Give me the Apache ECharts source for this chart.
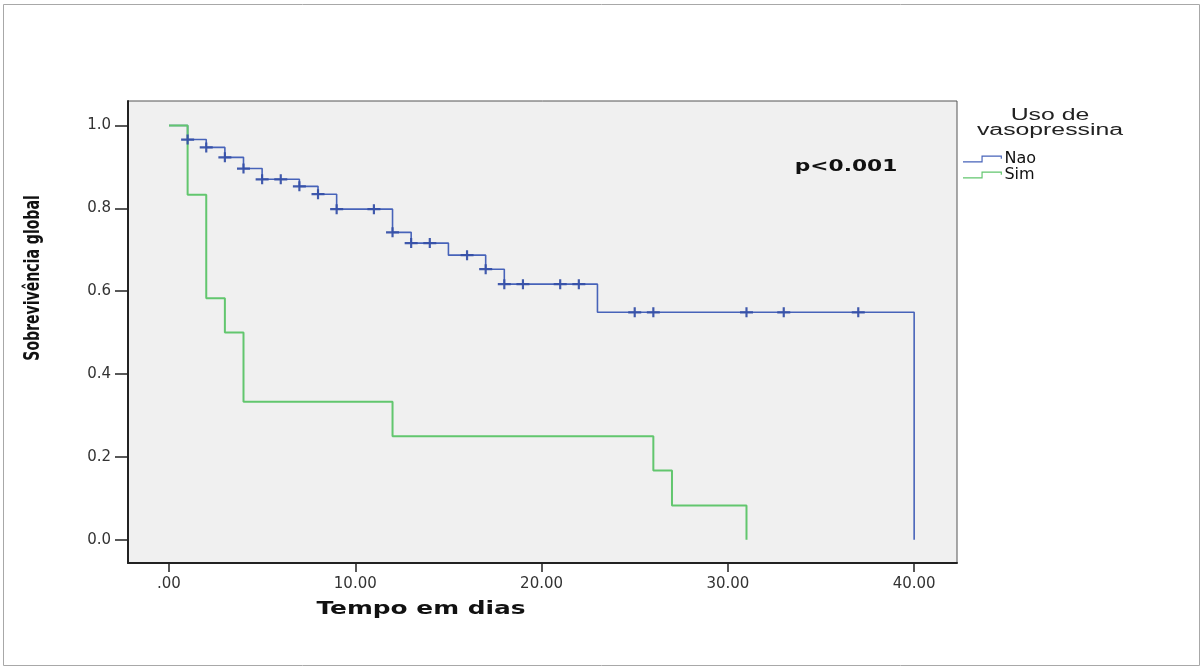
<!DOCTYPE html>
<html>
<head>
<meta charset="utf-8">
<title>Sobrevivência global - Uso de vasopressina</title>
<script src="https://cdn.jsdelivr.net/npm/echarts@6/dist/echarts.min.js"></script>
<style>
  html, body { margin: 0; padding: 0; background: #ffffff; }
  #chart { width: 1202px; height: 670px; }
</style>
</head>
<body>
<div id="chart"></div>
<script>
// Kaplan-Meier estimates (time in days, survival after the event at that time)
const naoTimes = [0, 1, 2, 3, 4, 5, 7, 8, 9, 12, 13, 15, 17, 18, 23, 40];
const naoSurv  = [1.0, 0.966, 0.947, 0.923, 0.896, 0.870, 0.853, 0.834, 0.798, 0.742, 0.716, 0.687, 0.653, 0.617, 0.549, 0.0];
// Censored observations (days) for the "Nao" group
const naoCensored = [1, 2, 3, 4, 5, 6, 7, 8, 9, 11, 12, 13, 14, 16, 17, 18, 19, 21, 22, 25, 26, 31, 33, 37];

const simTimes = [0, 1, 2, 3, 4, 12, 26, 27, 31];
const simSurv  = [1.0, 0.833, 0.583, 0.5, 0.333, 0.25, 0.167, 0.083, 0.0];

// Axis ticks
const xTicks = [0, 10, 20, 30, 40];
const yTicks = [0, 0.2, 0.4, 0.6, 0.8, 1.0];

const groupNames = ['Nao', 'Sim'];
const legendTitle = 'Uso de\nvasopressina';
const pValueText = 'p<0.001';
const xTitle = 'Tempo em dias';
const yTitle = 'Sobrevivência global';

const BLUE = '#4763B9';
const BLUE_MARK = '#3650A8';
const GREEN = '#62C66E';

function survivalAt(times, surv, t) {
  let s = surv[0];
  for (let i = 0; i < times.length; i++) {
    if (times[i] <= t) s = surv[i];
  }
  return s;
}

const naoLine = naoTimes.map((t, i) => [t, naoSurv[i]]);
const simLine = simTimes.map((t, i) => [t, simSurv[i]]);
const naoMarks = naoCensored.map(t => [t, survivalAt(naoTimes, naoSurv, t)]);

const chart = echarts.init(document.getElementById('chart'), null, { renderer: 'canvas' });

const stepIcon = 'path://M0,6H19V0H40V3.4H38.8V1.2H20.2V7.2H0Z';
const crossSymbol = 'path://M0,3.5H12V5.5H0ZM5,0H7V9H5Z';

chart.setOption({
  animation: false,
  backgroundColor: '#ffffff',
  grid: {
    left: 128, right: 245, top: 101, bottom: 107,
    show: true,
    backgroundColor: '#f0f0f0',
    borderColor: '#555555',
    borderWidth: 1
  },
  xAxis: {
    type: 'value',
    min: -2.2,
    max: 42.3,
    splitLine: { show: false },
    axisLine: { show: true, onZero: false, lineStyle: { color: '#222', width: 2 } },
    axisTick: { show: true, length: 9, customValues: xTicks, lineStyle: { color: '#222', width: 1.5 } },
    axisLabel: {
      customValues: xTicks,
      margin: 14,
      color: '#333',
      fontFamily: 'DejaVu Sans',
      fontSize: 15,
      formatter: v => (v === 0 ? '.00' : v.toFixed(2))
    }
  },
  yAxis: {
    type: 'value',
    min: -0.056,
    max: 1.059,
    splitLine: { show: false },
    axisLine: { show: true, onZero: false, lineStyle: { color: '#222', width: 2 } },
    axisTick: { show: true, length: 13, customValues: yTicks, lineStyle: { color: '#222', width: 1.5 } },
    axisLabel: {
      customValues: yTicks,
      margin: 17,
      color: '#333',
      fontFamily: 'DejaVu Sans',
      fontSize: 15,
      formatter: v => v.toFixed(1)
    }
  },
  legend: {
    data: groupNames,
    orient: 'vertical',
    left: 958,
    top: 146,
    itemGap: 0,
    itemWidth: 40,
    itemHeight: 7,
    icon: stepIcon,
    textStyle: { color: '#111', fontFamily: 'DejaVu Sans', fontSize: 16, padding: [0, 0, 0, -3] }
  },
  series: [
    {
      name: groupNames[0],
      type: 'line',
      step: 'end',
      data: naoLine,
      showSymbol: false,
      color: BLUE,
      lineStyle: { color: BLUE, width: 1.6 },
      z: 2
    },
    {
      name: groupNames[1],
      type: 'line',
      step: 'end',
      data: simLine,
      showSymbol: false,
      color: GREEN,
      lineStyle: { color: GREEN, width: 2 },
      z: 3
    },
    {
      name: 'Nao (censurado)',
      type: 'scatter',
      data: naoMarks,
      symbol: crossSymbol,
      symbolSize: [13, 10],
      itemStyle: { color: BLUE_MARK, opacity: 0.95 },
      silent: true,
      z: 4
    }
  ],
  graphic: [
    {
      type: 'rect',
      shape: { x: 3.5, y: 4.5, width: 1196, height: 661 },
      style: { fill: 'none', stroke: '#a8a8a8', lineWidth: 1 },
      z: -10,
      silent: true
    },
    {
      type: 'text',
      x: 1050, y: 123,
      scaleX: 1.55,
      style: {
        text: legendTitle,
        font: '16px "Liberation Sans", Arial, sans-serif',
        fill: '#222',
        align: 'center',
        verticalAlign: 'middle',
        lineHeight: 15
      },
      silent: true
    },
    {
      type: 'text',
      x: 846, y: 167,
      scaleX: 1.45,
      style: {
        text: pValueText,
        font: 'bold 15px "DejaVu Sans", Verdana, sans-serif',
        fill: '#111',
        align: 'center',
        verticalAlign: 'middle'
      },
      silent: true
    },
    {
      type: 'text',
      x: 421, y: 609,
      scaleX: 1.38,
      style: {
        text: xTitle,
        font: 'bold 18px "DejaVu Sans", Verdana, sans-serif',
        fill: '#111',
        align: 'center',
        verticalAlign: 'middle'
      },
      silent: true
    },
    {
      type: 'text',
      x: 33, y: 278,
      rotation: Math.PI / 2,
      scaleX: 0.74,
      scaleY: 1.12,
      style: {
        text: yTitle,
        font: 'bold 19px "DejaVu Sans", sans-serif',
        fill: '#111',
        align: 'center',
        verticalAlign: 'middle'
      },
      silent: true
    }
  ]
});
</script>
</body>
</html>
